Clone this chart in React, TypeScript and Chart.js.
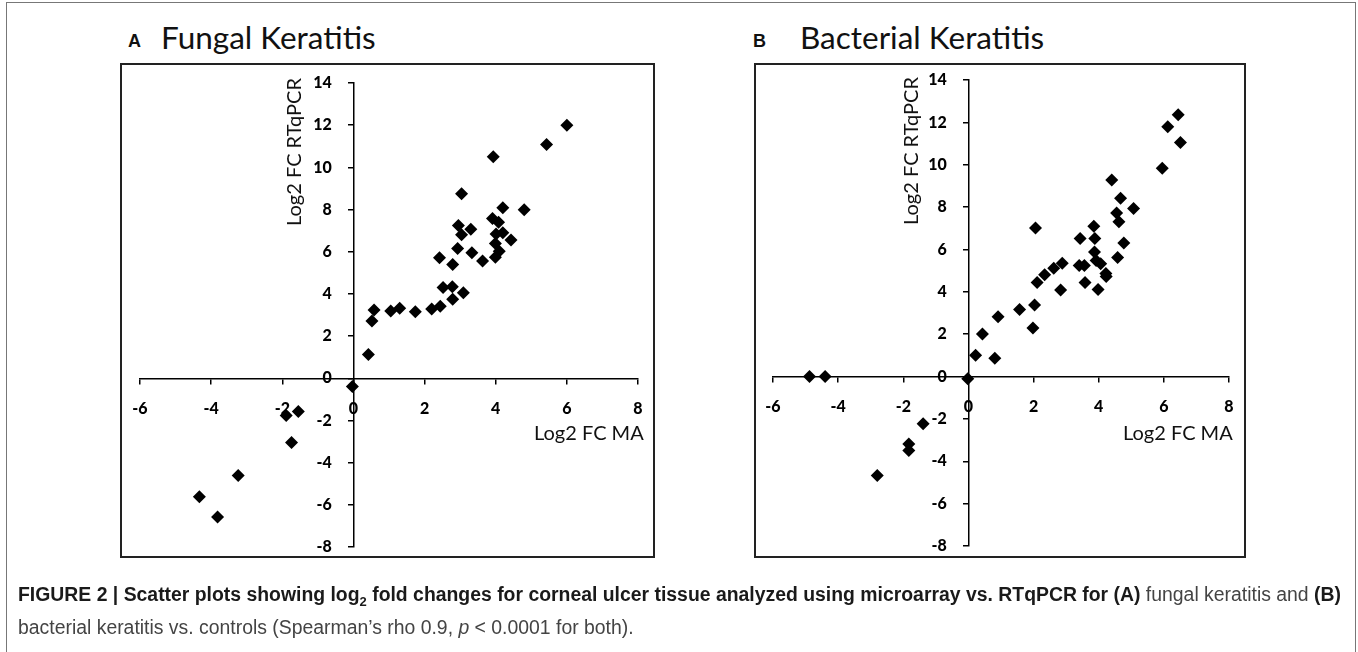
import React, { useEffect, useRef } from "react";
import { Chart, registerables } from "chart.js";
Chart.register(...registerables);

// ---------- data ----------
const fungalMA = [6.0, 5.43, 3.93, 3.04, 4.2, 4.8, 3.91, 4.08, 2.95, 3.3, 3.04, 4.01, 4.2, 4.43, 3.99, 2.93, 3.33, 4.1, 3.99, 3.63, 2.42, 2.79, 2.52, 2.78, 3.09, 2.79, 2.44, 2.2, 1.74, 1.3, 1.05, 0.58, 0.52, 0.42, -0.03, -1.55, -1.89, -1.74, -3.24, -4.33, -3.82];
const fungalPCR = [12.0, 11.08, 10.5, 8.75, 8.08, 7.99, 7.58, 7.4, 7.24, 7.06, 6.8, 6.84, 6.9, 6.56, 6.39, 6.15, 5.95, 6.02, 5.74, 5.56, 5.72, 5.39, 4.3, 4.34, 4.06, 3.75, 3.42, 3.28, 3.15, 3.32, 3.19, 3.24, 2.72, 1.13, -0.39, -1.57, -1.76, -3.04, -4.61, -5.62, -6.58];

const bacterialMA = [6.44, 6.12, 6.51, 5.95, 4.4, 4.67, 5.07, 4.55, 4.62, 2.06, 3.85, 3.88, 3.43, 4.77, 3.87, 4.58, 3.92, 4.06, 2.88, 2.62, 3.4, 3.56, 2.34, 2.11, 3.58, 4.22, 4.23, 2.83, 3.98, 2.03, 1.57, 0.91, 1.98, 0.43, 0.22, 0.81, -0.02, -4.88, -4.4, -1.39, -1.83, -1.83, -2.8];
const bacterialPCR = [12.36, 11.79, 11.05, 9.83, 9.28, 8.42, 7.93, 7.72, 7.31, 7.01, 7.1, 6.52, 6.52, 6.3, 5.88, 5.62, 5.48, 5.32, 5.35, 5.11, 5.24, 5.24, 4.8, 4.44, 4.44, 4.86, 4.72, 4.08, 4.11, 3.38, 3.16, 2.82, 2.29, 2.01, 1.0, 0.86, -0.1, 0.0, 0.0, -2.23, -3.18, -3.49, -4.67];

const X_MIN = -6, X_MAX = 8, X_STEP = 2;
const Y_MIN = -8, Y_MAX = 14, Y_STEP = 2;

const X_TITLE = "Log2 FC MA";
const Y_TITLE = "Log2 FC RTqPCR";

// ---------- chart panel ----------
// target: page pixels where the ends of the axis ranges must fall
type Target = { l: number; r: number; t: number; b: number };
const M = 40; // canvas margin around the plot area so layout padding stays positive

function ScatterPanel(props: { xs: number[]; ys: number[]; target: Target }) {
  const ref = useRef<HTMLCanvasElement | null>(null);
  const left = props.target.l - M, top = props.target.t - M;
  const width = props.target.r - props.target.l + 2 * M;
  const height = props.target.b - props.target.t + 2 * M;
  useEffect(() => {
    const canvas = ref.current!;
    const points = props.xs.map((x, i) => ({ x, y: props.ys[i] }));
    let pad = { left: M, right: M, top: M, bottom: M };
    const tickFont = { family: "Lato", weight: 900, size: 16 };
    const chart = new Chart(canvas, {
      type: "scatter",
      data: {
        datasets: [{
          data: points,
          pointStyle: "rectRot",
          pointRadius: 6.5,
          pointHoverRadius: 6.5,
          backgroundColor: "#000",
          borderColor: "#000",
          borderWidth: 0,
        }],
      },
      options: {
        animation: false,
        responsive: false,
        maintainAspectRatio: false,
        events: [],
        layout: { padding: pad },
        plugins: { legend: { display: false }, tooltip: { enabled: false }, title: { display: false } },
        scales: {
          x: {
            type: "linear",
            min: X_MIN, max: X_MAX,
            position: { y: 0 } as any,
            ticks: { stepSize: X_STEP, font: tickFont, color: "#000", padding: 16, autoSkip: false, maxRotation: 0 },
            grid: { drawOnChartArea: false, drawTicks: true, tickLength: 5, color: "#000", lineWidth: 1.5 },
            border: { display: true, color: "#000", width: 1.5 },
          },
          y: {
            type: "linear",
            min: Y_MIN, max: Y_MAX,
            position: { x: 0 } as any,
            ticks: {
              stepSize: Y_STEP, font: tickFont, color: "#000", autoSkip: false,
              // centre-positioned axes put labels flush against the line; keep a gap like the reference
              callback: (v: any) => String(v) + "\u2003\u2009\u00a0\u00a0",
            },
            grid: { drawOnChartArea: false, drawTicks: true, tickLength: 5, color: "#000", lineWidth: 1.5 },
            border: { display: true, color: "#000", width: 1.5 },
          },
        },
      },
    });
    const tl = props.target.l - left, tr = props.target.r - left;
    const tt = props.target.t - top, tb = props.target.b - top;
    for (let i = 0; i < 5; i++) {
      const sx: any = chart.scales.x, sy: any = chart.scales.y;
      const dl = tl - sx.getPixelForValue(X_MIN);
      const dr = sx.getPixelForValue(X_MAX) - tr;
      const dt = tt - sy.getPixelForValue(Y_MAX);
      const db = sy.getPixelForValue(Y_MIN) - tb;
      if (Math.abs(dl) + Math.abs(dr) + Math.abs(dt) + Math.abs(db) < 0.3) break;
      pad = { left: pad.left + dl, right: pad.right + dr, top: pad.top + dt, bottom: pad.bottom + db };
      (chart.config.options as any).layout.padding = pad;
      chart.update();
    }
    return () => chart.destroy();
  }, []);
  return (
    <canvas
      ref={ref}
      width={width}
      height={height}
      style={{ position: "absolute", left, top, width, height, display: "block" }}
    />
  );
}

const titleFont = "Lato, 'Open Sans', sans-serif";
const capFont = "'Liberation Sans Narrow', 'Arial Narrow', 'Liberation Sans', Arial, sans-serif";

function Frame(p: { l: number; t: number; r: number; b: number }) {
  return (
    <div style={{ position: "absolute", left: p.l, top: p.t, width: p.r - p.l, height: p.b - p.t, border: "2px solid #222", boxSizing: "border-box" }} />
  );
}

function Txt(p: { x: number; y: number; size: number; text: string; bold?: boolean; family?: string; rotate?: boolean }) {
  return (
    <div style={{
      position: "absolute", left: p.x, top: p.y, whiteSpace: "nowrap",
      fontFamily: p.family || titleFont, fontSize: p.size, fontWeight: p.bold ? 700 : 400, color: "#111",
      lineHeight: 1,
      transform: p.rotate ? "translate(-50%,-50%) rotate(-90deg)" : "translate(0,-50%)",
    }}>{p.text}</div>
  );
}

export default function App() {
  useEffect(() => {
    document.body.style.margin = "0";
  }, []);
  return (
    <div style={{ position: "absolute", left: 0, top: 0, width: 1358, height: 652, background: "#fff", overflow: "hidden" }}>
      <div style={{ position: "absolute", left: 6, top: 2, width: 1350, height: 700, border: "1.5px solid #777", boxSizing: "border-box" }} />

      <Txt x={128} y={41} size={18} bold family="'Liberation Sans', Arial, sans-serif" text="A" />
      <Txt x={161} y={38} size={31.5} text="Fungal Keratitis" />
      <Txt x={753} y={41} size={18} bold family="'Liberation Sans', Arial, sans-serif" text="B" />
      <Txt x={800} y={38} size={31.5} text="Bacterial Keratitis" />

      <Frame l={120} t={63} r={655} b={558} />
      <Frame l={754} t={63} r={1246} b={558} />

      <ScatterPanel xs={fungalMA} ys={fungalPCR} target={{ l: 140, r: 638, t: 83, b: 547 }} />
      <ScatterPanel xs={bacterialMA} ys={bacterialPCR} target={{ l: 773, r: 1229, t: 80, b: 546 }} />

      <Txt x={293} y={152} size={20} rotate text={Y_TITLE} />
      <Txt x={534} y={432} size={20} text={X_TITLE} />
      <Txt x={910} y={151} size={20} rotate text={Y_TITLE} />
      <Txt x={1123} y={432} size={20} text={X_TITLE} />

      <div style={{ position: "absolute", left: 18, top: 578, width: 1335, fontFamily: capFont, fontSize: 19.4, lineHeight: "33px", color: "#444", whiteSpace: "nowrap" }}>
        <div>
          <b style={{ color: "#1a1a1a" }}>FIGURE 2 | Scatter plots showing log<sub style={{ fontSize: 13, lineHeight: 0 }}>2</sub> fold changes for corneal ulcer tissue analyzed using microarray vs. RTqPCR for (A)</b>
          {" fungal keratitis and "}
          <b style={{ color: "#1a1a1a" }}>(B)</b>
        </div>
        <div>
          {"bacterial keratitis vs. controls (Spearman\u2019s rho 0.9, "}<i>p</i>{" < 0.0001 for both)."}
        </div>
      </div>
    </div>
  );
}
